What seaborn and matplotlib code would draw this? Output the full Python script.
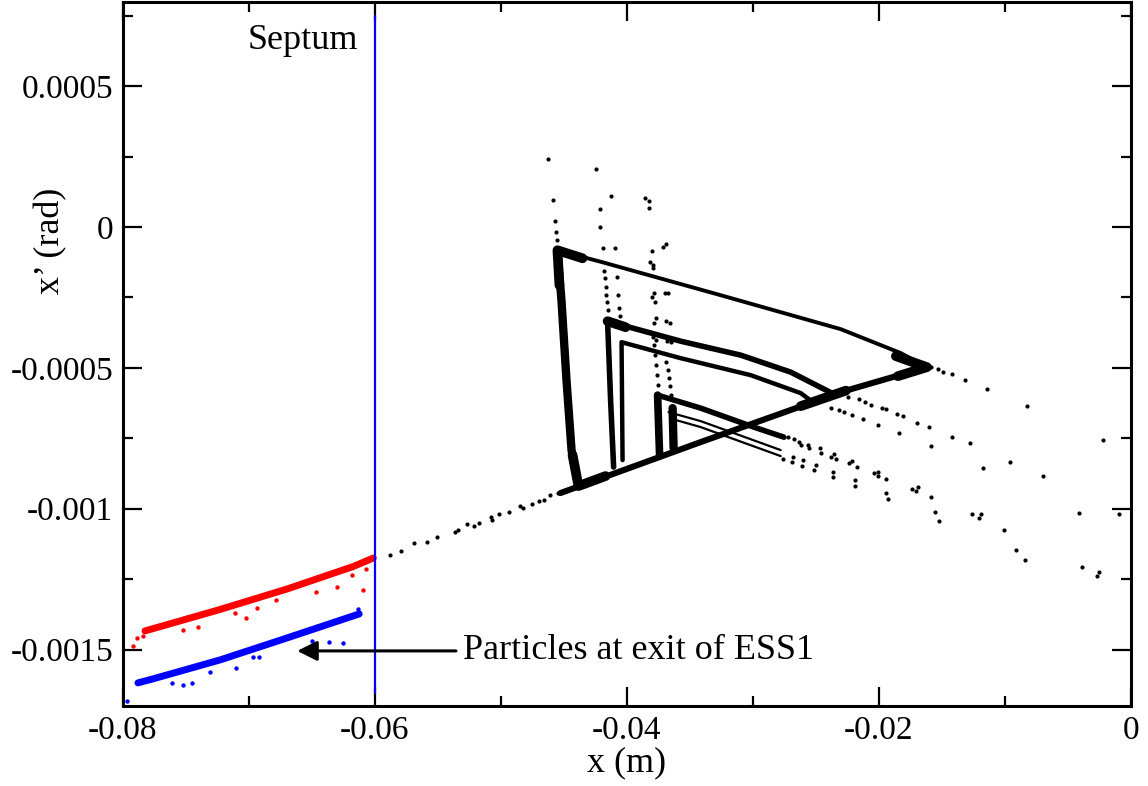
import numpy as np
import matplotlib
matplotlib.use("Agg")
import matplotlib.pyplot as plt
from matplotlib.ticker import MultipleLocator
import seaborn as sns

# values: x in mm, x' in microradians

# particles at the exit of ESS1 (two bands, drawn as thick traces)
red_band_x = [-78.25, -72.29, -66.97, -61.72, -60.13]
red_band_y = [-1433.6, -1357.4, -1284.7, -1204.9, -1174.8]
red_dots_x = [-79.21, -78.89, -78.41, -75.23, -74.04, -71.10, -70.23, -69.35,
              -67.84, -64.67, -63.00, -61.80, -60.93, -60.69]
red_dots_y = [-1486.8, -1458.4, -1451.4, -1430.1, -1419.4, -1369.8, -1387.5,
              -1352.1, -1323.7, -1295.3, -1277.6, -1235.1, -1288.2, -1213.8]

blue_band_x = [-78.81, -77.62, -72.29, -66.97, -61.25]
blue_band_y = [-1618.0, -1603.8, -1536.5, -1458.4, -1373.3]
blue_dots_x = [-79.68, -76.11, -75.23, -74.52, -73.09, -71.02, -69.67, -69.19,
               -64.98, -63.63, -62.52, -61.33]
blue_dots_y = [-1681.8, -1618.0, -1625.1, -1618.0, -1579.0, -1564.8, -1525.8,
               -1525.8, -1469.1, -1472.6, -1476.2, -1355.6]

# dense parts of the separatrix structure
a_left_x = [-45.52, -45.20, -44.80, -44.40, -43.85]
a_left_y = [-82.6, -259.9, -543.6, -791.8, -919.5]
a_top_x = [-45.52, -41.94, -32.56, -23.03, -18.26, -16.19]
a_top_y = [-82.6, -125.2, -242.2, -362.7, -447.8, -497.5]
a_bottom_x = [-45.28, -34.15, -23.03, -16.19]
a_bottom_y = [-944.3, -763.4, -586.1, -497.5]
b_outer_x = [-41.06, -41.30, -41.54, -35.74, -30.97, -27.00, -23.43]
b_outer_y = [-852.1, -614.5, -334.4, -405.3, -454.9, -515.2, -596.8]
b_inner_x = [-40.35, -40.43, -35.74, -30.18, -26.21, -25.25]
b_inner_y = [-827.3, -408.8, -465.6, -525.9, -589.7, -621.6]
c_left_x = [-37.41, -37.57]
c_left_y = [-813.1, -596.8]
c_top_x = [-37.57, -34.15, -29.94, -27.56]
c_top_y = [-596.8, -642.9, -710.2, -745.7]
d_left_x = [-36.30, -36.38]
d_left_y = [-784.7, -642.9]
d1_x = [-36.70, -34.15, -27.80]
d1_y = [-657.1, -689.0, -791.8]
d2_x = [-36.38, -34.15, -27.80]
d2_y = [-681.9, -710.2, -813.1]

# dense clumps at the corners and crossings
clump_tl_x = [-43.53, -45.52, -45.36]
clump_tl_y = [-111.0, -82.6, -206.7]
clump_bl_x = [-44.32, -43.85, -41.70]
clump_bl_y = [-809.5, -919.5, -884.0]
clump_tip_x = [-18.66, -16.19, -18.50]
clump_tip_y = [-458.5, -497.5, -529.4]
clump_cross_x = [-26.21, -22.63]
clump_cross_y = [-635.8, -580.8]
clump_b_x = [-41.54, -40.11]
clump_b_y = [-334.4, -355.6]

# single black particles
black_x = [
    # tail from the septum
    -58.79, -57.91, -56.88, -55.85, -55.05, -53.62, -53.38, -52.67, -52.11, -51.71,
    -50.76, -50.68, -50.12, -49.33, -48.46, -48.22, -47.50, -46.95, -46.55, -46.07, -45.44,
    # above the structure
    -46.23, -45.91, -45.75, -45.67, -45.59, -42.42, -42.18, -42.18, -41.94, -41.86,
    -41.78, -41.70, -41.70, -41.62, -41.54, -41.30, -40.99, -40.83, -40.75, -40.67,
    -40.59, -38.60, -38.28, -38.28, -38.05, -37.17, -36.93, -38.20, -37.97, -37.97,
    -38.05, -37.89, -37.81, -37.01, -36.77, -37.73, -37.89, -36.93, -36.62, -37.73,
    -36.85, -36.54, -37.97, -37.89, -37.81, -37.73, -37.65, -37.57, -36.93, -36.77,
    -36.70, -36.62, -36.54,
    # tails to the right
    -15.88, -15.32, -14.92, -14.21, -13.18, -11.43, -8.25, -2.21,
    -22.47, -21.60, -21.12, -20.64, -19.77, -19.45, -18.58, -18.10, -16.99, -16.04,
    -14.21, -12.78, -9.60, -6.98,
    -23.82, -23.19, -22.79, -22.15, -21.28, -20.09, -18.42, -15.88, -11.74,
    -27.56, -27.24, -26.76, -26.37, -26.21, -25.65, -25.57, -24.70, -24.62, -23.82,
    -23.58, -23.43, -22.39, -22.15, -21.76, -20.41, -20.09, -20.09, -19.45, -17.39,
    -17.07, -16.91,
    -27.64, -26.84, -26.92, -26.13, -26.05, -25.17, -25.01, -23.66, -23.66, -21.92,
    -21.92, -19.45, -19.29,
    -15.88, -15.56, -15.24, -12.62, -12.06, -11.90, -10.08, -9.12, -8.41, -4.12,
    -3.88, -2.69, -2.53, -0.94,
]
black_y = [
    -1164.1, -1149.9, -1121.6, -1118.0, -1100.3, -1082.6, -1075.5, -1054.2, -1061.3, -1050.7,
    -1029.4, -1040.0, -1018.7, -1011.7, -990.4, -997.5, -983.3, -972.6, -969.1, -951.4, -944.3,
    240.1, 94.7, 20.2, -18.8, -47.1, 204.6, 62.8, -1.1, -75.5, -157.1,
    -181.9, -213.8, -242.2, -267.0, -295.4, 108.9, -75.5, -178.3, -242.2, -288.3,
    -316.6, 101.8, 91.2, 66.3, -86.1, -72.0, -61.3, -125.2, -135.8, -146.4,
    -249.3, -235.1, -267.0, -235.1, -235.1, -323.7, -341.5, -334.4, -341.5, -401.7,
    -405.3, -408.8, -391.1, -419.5, -454.9, -490.4, -525.9, -561.3, -479.8, -508.1,
    -536.5, -564.9, -596.8,
    -497.5, -504.6, -515.2, -522.3, -543.6, -575.5, -635.8, -756.3,
    -603.9, -611.0, -621.6, -632.2, -642.9, -646.4, -664.1, -671.2, -696.1, -710.2,
    -745.7, -767.0, -834.4, -884.0,
    -642.9, -650.0, -657.1, -667.7, -681.9, -703.2, -731.5, -777.6, -855.6,
    -745.7, -745.7, -752.8, -763.4, -774.1, -774.1, -784.7, -784.7, -802.4, -816.6,
    -806.0, -823.7, -837.9, -830.8, -852.1, -873.4, -869.8, -884.0, -894.6, -930.1,
    -937.2, -923.0,
    -823.7, -816.6, -834.4, -848.5, -827.3, -862.7, -845.0, -887.5, -869.8, -898.2,
    -919.5, -944.3, -965.6,
    -958.5, -1011.7, -1043.6, -1018.7, -1032.9, -1018.7, -1075.5, -1146.4, -1181.9, -1015.2,
    -1206.7, -1238.6, -1224.4, -1018.7,
]

septum_x = [-60.0, -60.0]
septum_y = [-1653.0, 750.0]

x_ticks = [-0.08, -0.06, -0.04, -0.02, 0.0]
x_tick_labels = ["-0.08", "-0.06", "-0.04", "-0.02", "0"]
y_ticks = [-0.0015, -0.001, -0.0005, 0.0, 0.0005]
y_tick_labels = ["-0.0015", "-0.001", "-0.0005", "0", "0.0005"]


def mm(v):
    return np.asarray(v, dtype=float) / 1000.0


def urad(v):
    return np.asarray(v, dtype=float) * 1e-6


def trace(ax, xs, ys, color, lw):
    sns.lineplot(x=mm(xs), y=urad(ys), sort=False, estimator=None, color=color,
                 lw=lw, ax=ax, legend=False, solid_capstyle='round',
                 solid_joinstyle='round')


def dots(ax, xs, ys, color, s):
    sns.scatterplot(x=mm(xs), y=urad(ys), color=color, s=s, linewidth=0,
                    ax=ax, legend=False)


sns.set_style('ticks')
plt.rcParams['font.family'] = ['Liberation Serif', 'DejaVu Serif']
plt.rcParams['axes.unicode_minus'] = False
plt.rcParams['text.color'] = 'black'
plt.rcParams['axes.labelcolor'] = 'black'
plt.rcParams['xtick.color'] = 'black'
plt.rcParams['ytick.color'] = 'black'

fig = plt.figure(figsize=(11.48, 7.86), dpi=100)
ax = fig.add_axes([0.1071, 0.1018, 0.8781, 0.8962])

# exit particles
trace(ax, red_band_x, red_band_y, '#ff0000', 5.0)
dots(ax, red_dots_x, red_dots_y, '#ff0000', 10)
trace(ax, blue_band_x, blue_band_y, '#0000ff', 5.0)
dots(ax, blue_dots_x, blue_dots_y, '#0000ff', 10)

# separatrix structure
trace(ax, a_left_x, a_left_y, 'black', 6.0)
trace(ax, a_top_x, a_top_y, 'black', 2.8)
trace(ax, a_bottom_x, a_bottom_y, 'black', 4.4)
trace(ax, b_outer_x, b_outer_y, 'black', 4.0)
trace(ax, b_inner_x, b_inner_y, 'black', 3.2)
trace(ax, c_left_x, c_left_y, 'black', 5.5)
trace(ax, c_top_x, c_top_y, 'black', 4.0)
trace(ax, d_left_x, d_left_y, 'black', 6.0)
trace(ax, d1_x, d1_y, 'black', 1.6)
trace(ax, d2_x, d2_y, 'black', 1.6)
for cx, cy in [(clump_tl_x, clump_tl_y), (clump_bl_x, clump_bl_y),
               (clump_tip_x, clump_tip_y), (clump_cross_x, clump_cross_y),
               (clump_b_x, clump_b_y)]:
    trace(ax, cx, cy, 'black', 7.0)
dots(ax, black_x, black_y, 'black', 9)

# septum
trace(ax, septum_x, septum_y, '#0000ff', 1.6)
ax.text(-0.06133, 0.000662, 'Septum', ha='right', va='center', fontsize=26)

ax.annotate('Particles at exit of ESS1', xy=(-0.06617, -0.0015045),
            xytext=(-0.05298, -0.0015045), fontsize=26, ha='left', va='center',
            arrowprops=dict(arrowstyle='-|>', color='black', lw=2.2,
                            mutation_scale=30, shrinkA=3, shrinkB=0))

ax.set_xlim(-0.08, 0.0)
ax.set_ylim(-0.0017, 0.0008)
ax.set_xticks(x_ticks)
ax.set_xticklabels(x_tick_labels)
ax.set_yticks(y_ticks)
ax.set_yticklabels(y_tick_labels)
ax.xaxis.set_minor_locator(MultipleLocator(0.01))
ax.yaxis.set_minor_locator(MultipleLocator(0.00025))
ax.tick_params(which='both', direction='in', top=True, right=True, width=1.6,
               color='black')
ax.tick_params(which='major', length=14, labelsize=24, pad=7)
ax.tick_params(which='minor', length=7)
for sp in ax.spines.values():
    sp.set_linewidth(2.2)
    sp.set_color('black')

ax.set_xlabel('x (m)', fontsize=26, labelpad=0)
ax.set_ylabel('x\u2019 (rad)', fontsize=26)
ax.yaxis.set_label_coords(-0.055, 0.66)

fig.savefig('out.png', dpi=100)
